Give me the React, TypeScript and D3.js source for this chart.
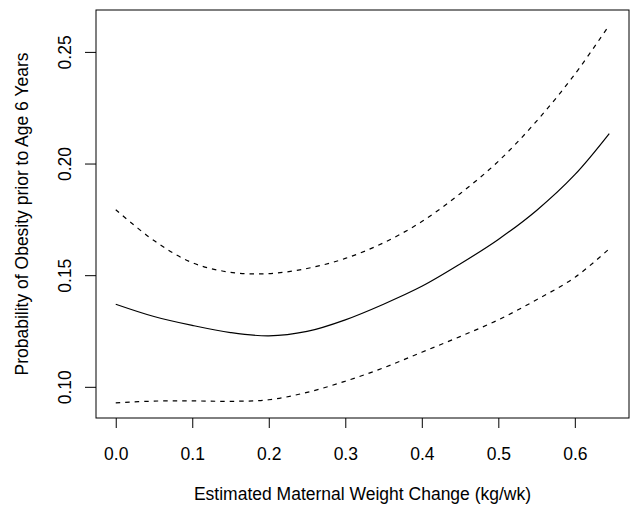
import React, { useEffect, useRef } from 'react';
import * as d3 from 'd3';

// weight change grid (kg/wk)
const weightChange = [0, 0.05, 0.1, 0.15, 0.2, 0.25, 0.3, 0.35, 0.4, 0.45, 0.5, 0.55, 0.6, 0.645];
// fitted probability and 95% band
const fitted = [0.137, 0.1315, 0.1275, 0.1243, 0.1228, 0.1248, 0.13, 0.137, 0.145, 0.155, 0.166, 0.179, 0.195, 0.2134];
const upper = [0.1793, 0.1655, 0.1556, 0.1513, 0.1507, 0.153, 0.1575, 0.1645, 0.174, 0.1865, 0.201, 0.219, 0.24, 0.262];
const lower = [0.0928, 0.0936, 0.0937, 0.0935, 0.0942, 0.0975, 0.1025, 0.1085, 0.1155, 0.1225, 0.13, 0.139, 0.149, 0.1618];

const xTicks = [0, 0.1, 0.2, 0.3, 0.4, 0.5, 0.6];
const yTicks = [0.1, 0.15, 0.2, 0.25];

const App = () => {
  const ref = useRef<SVGSVGElement>(null);

  useEffect(() => {
    const width = 633;
    const height = 505;
    const box = { left: 96, right: 629, top: 10, bottom: 418 };
    const font = '"Liberation Sans", Arial, sans-serif';

    const svg = d3.select(ref.current);
    svg.selectAll('*').remove();
    svg.attr('width', width).attr('height', height);

    // R style 4% padding on both axes
    const xMin = d3.min(weightChange)!;
    const xMax = d3.max(weightChange)!;
    const xPad = (xMax - xMin) * 0.04;
    const yMin = d3.min(lower)!;
    const yMax = d3.max(upper)!;
    const yPad = (yMax - yMin) * 0.04;

    const x = d3.scaleLinear().domain([xMin - xPad, xMax + xPad]).range([box.left, box.right]);
    const y = d3.scaleLinear().domain([yMin - yPad, yMax + yPad]).range([box.bottom, box.top]);

    const g = svg.append('g');

    const line = d3
      .line<number>()
      .x((d, i) => x(weightChange[i]))
      .y(d => y(d))
      .curve(d3.curveCatmullRom.alpha(0.5));

    g.append('path')
      .attr('d', line(fitted))
      .attr('fill', 'none')
      .attr('stroke', '#000')
      .attr('stroke-width', 1.2);

    [upper, lower].forEach(band => {
      g.append('path')
        .attr('d', line(band))
        .attr('fill', 'none')
        .attr('stroke', '#000')
        .attr('stroke-width', 1.2)
        .attr('stroke-dasharray', '4.5,5');
    });

    // box
    g.append('rect')
      .attr('x', box.left)
      .attr('y', box.top)
      .attr('width', box.right - box.left)
      .attr('height', box.bottom - box.top)
      .attr('fill', 'none')
      .attr('stroke', '#000')
      .attr('stroke-width', 1);

    // x axis
    const xAxis = d3
      .axisBottom(x)
      .tickValues(xTicks)
      .tickSize(10)
      .tickPadding(20)
      .tickFormat(d3.format('.1f'));
    const gx = g.append('g').attr('transform', `translate(0,${box.bottom})`).call(xAxis);
    gx.select('.domain').remove();
    gx.selectAll('text').attr('font-family', font).attr('font-size', 17.5).attr('fill', '#000');
    gx.selectAll('line').attr('stroke', '#000');

    // y axis
    const yAxis = d3
      .axisLeft(y)
      .tickValues(yTicks)
      .tickSize(11)
      .tickFormat(d3.format('.2f'));
    const gy = g.append('g').attr('transform', `translate(${box.left},0)`).call(yAxis);
    gy.select('.domain').remove();
    gy.selectAll('line').attr('stroke', '#000');
    gy.selectAll('text')
      .attr('font-family', font)
      .attr('font-size', 17.5)
      .attr('fill', '#000')
      .attr('x', null)
      .attr('dy', null)
      .attr('text-anchor', 'middle')
      .attr('transform', 'translate(-25,0) rotate(-90)');

    // titles
    g.append('text')
      .attr('x', (box.left + box.right) / 2)
      .attr('y', 500)
      .attr('text-anchor', 'middle')
      .attr('font-family', font)
      .attr('font-size', 17.5)
      .text('Estimated Maternal Weight Change (kg/wk)');

    g.append('text')
      .attr('transform', `translate(28,${(box.top + box.bottom) / 2}) rotate(-90)`)
      .attr('text-anchor', 'middle')
      .attr('font-family', font)
      .attr('font-size', 17.5)
      .text('Probability of Obesity prior to Age 6 Years');

    return () => {
      svg.selectAll('*').remove();
    };
  }, []);

  return (
    <div style={{ position: 'absolute', left: 0, top: 0 }}>
      <svg ref={ref} style={{ display: 'block' }}></svg>
    </div>
  );
};

export default App;
